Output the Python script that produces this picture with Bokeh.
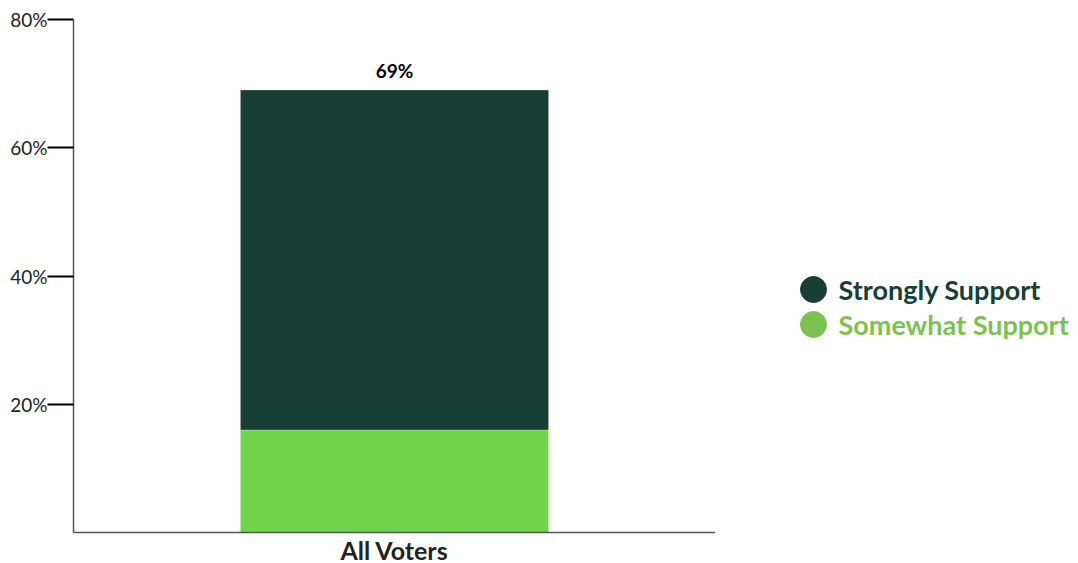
from bokeh.plotting import figure
from bokeh.layouts import row
from bokeh.models import FixedTicker, PrintfTickFormatter, Range1d, ColumnDataSource
from bokeh.core.properties import value
from bokeh.embed import file_html
from bokeh.resources import INLINE

categories = ["All Voters"]
series = ["Somewhat Support", "Strongly Support"]
somewhat = [16]
strongly = [53]
totals = [s + t for s, t in zip(somewhat, strongly)]
total_labels = [f"{v}%" for v in totals]
y_ticks = [20, 40, 60, 80]
bar_colors = ["#6fd44c", "#173f35"]
legend_names = ["Strongly Support", "Somewhat Support"]
legend_colors = ["#173f35", "#7cc24f"]

FONT = "Lato"

src = ColumnDataSource(dict(cat=categories, **{"Somewhat Support": somewhat, "Strongly Support": strongly},
                            total=totals, label=total_labels))

p = figure(x_range=categories, y_range=Range1d(0, 80), frame_width=642, frame_height=513,
           min_border_left=73, min_border_top=19, min_border_right=0, min_border_bottom=0,
           title=None, align="start",
           output_backend="svg", toolbar_location=None, outline_line_color=None)
p.vbar_stack(series, x="cat", width=0.48, color=bar_colors, source=src,
             line_color="#ffffff", line_alpha=0.25, line_width=1)
p.text(x="cat", y="total", text="label", source=src, text_align="center", text_baseline="bottom",
       y_offset=-8, text_font=value(FONT), text_font_style="bold", text_font_size="19px",
       text_color="#000000")

p.xgrid.visible = False
p.ygrid.visible = False

p.yaxis.ticker = FixedTicker(ticks=y_ticks)
p.yaxis.formatter = PrintfTickFormatter(format="%d%%")
p.yaxis.major_tick_out = 26
p.yaxis.major_tick_in = 0
p.yaxis.major_tick_line_width = 2
p.yaxis.major_tick_line_color = "#000000"
p.yaxis.minor_tick_line_color = None
p.yaxis.axis_line_color = "#555555"
p.yaxis.axis_line_width = 1.5
p.yaxis.major_label_standoff = 0
p.yaxis.major_label_text_font = FONT
p.yaxis.major_label_text_font_size = "19px"
p.yaxis.major_label_text_color = "#222222"

p.xaxis.major_tick_line_color = None
p.xaxis.major_tick_out = 0
p.xaxis.major_tick_in = 0
p.xaxis.minor_tick_line_color = None
p.xaxis.axis_line_color = "#555555"
p.xaxis.axis_line_width = 1.5
p.xaxis.major_label_standoff = 2
p.xaxis.major_label_text_font = FONT
p.xaxis.major_label_text_font_style = "bold"
p.xaxis.major_label_text_font_size = "25px"
p.xaxis.major_label_text_color = "#222222"

# legend panel
H = 540
W = 355
lg = figure(frame_width=W, frame_height=H, x_range=Range1d(0, W), y_range=Range1d(H, 0),
            x_axis_location=None, y_axis_location=None, title=None, align="start",
            output_backend="svg", toolbar_location=None, outline_line_color=None,
            min_border=0)
lg.grid.visible = False
lsrc = ColumnDataSource(dict(name=legend_names, color=legend_colors,
                             y=[270 + 35 * i for i in range(len(legend_names))],
                             x=[98] * len(legend_names)))
lg.scatter(x="x", y="y", source=lsrc, size=26, color="color", marker="circle")
lg.text(x="x", y="y", text="name", source=lsrc, x_offset=25, text_baseline="middle",
        text_color="color", text_font=value(FONT), text_font_style="bold", text_font_size="27px")

layout = row(p, lg)
open("out.html", "w").write(file_html(layout, INLINE))
